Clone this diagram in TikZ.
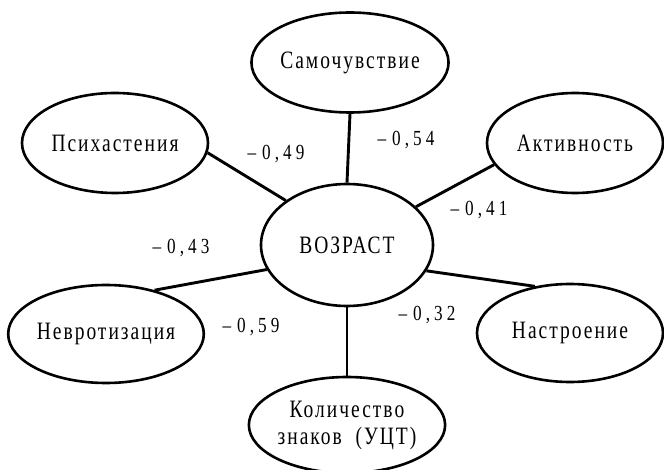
\documentclass[tikz,border=0pt]{standalone}
\usepackage{fontspec}
\setmainfont{Liberation Serif}[FakeStretch=0.78,LetterSpace=8]
\newfontfamily\coeffont{Liberation Serif}[FakeStretch=0.8,LetterSpace=19]
\usetikzlibrary{shapes.geometric}
\tikzset{
  oval/.style={draw=black, line width=2.6pt, ellipse, inner sep=0pt,
    font=\fontsize{25}{28}\selectfont, align=center},
  link/.style={draw=black, line width=2.9pt},
  coef/.style={font=\coeffont\fontsize{21.5}{25}\selectfont, inner sep=0pt}
}
\begin{document}
\begin{tikzpicture}[x=1pt,y=-1pt]
\useasboundingbox (0,0) rectangle (664,470);
\node[oval, minimum width=188pt, minimum height=100pt] (sam) at (350,62.5) {Самочувствие};
\node[oval, minimum width=172pt, minimum height=122pt] (age) at (347,245) {ВОЗРАСТ};
\node[oval, minimum width=186pt, minimum height=100pt] (psy) at (115,143) {Психастения};
\node[oval, minimum width=176pt, minimum height=100pt] (act) at (575,143) {Активность};
\node[oval, minimum width=186pt, minimum height=98pt] (nev) at (106,334) {Невротизация};
\node[oval, minimum width=186pt, minimum height=98pt] (mood) at (570,333) {Настроение};
\node[oval, minimum width=187pt, minimum height=96pt] (cnt) at (347,425) {Количество\\[-1pt]знаков~~(УЦТ)};

\draw[link] (sam.south) -- (age.north);
\draw[link] (psy.-6) -- (age.144);
\draw[link] (act.195) -- (age.29);
\draw[link] (nev.42) -- (age.197);
\draw[link] (mood.127) -- (age.-18);
\draw[link] (age.south) -- (cnt.north);

\node[coef] (c54) at (406,140) {–\hspace{6pt}0,54};
\node[coef] (c49) at (276,154) {–\hspace{6pt}0,49};
\node[coef] (c41) at (479,210) {–\hspace{6pt}0,41};
\node[coef] (c43) at (181,248) {–\hspace{6pt}0,43};
\node[coef] (c59) at (251,327) {–\hspace{6pt}0,59};
\node[coef] (c32) at (427,315) {–\hspace{6pt}0,32};
\end{tikzpicture}
\end{document}
